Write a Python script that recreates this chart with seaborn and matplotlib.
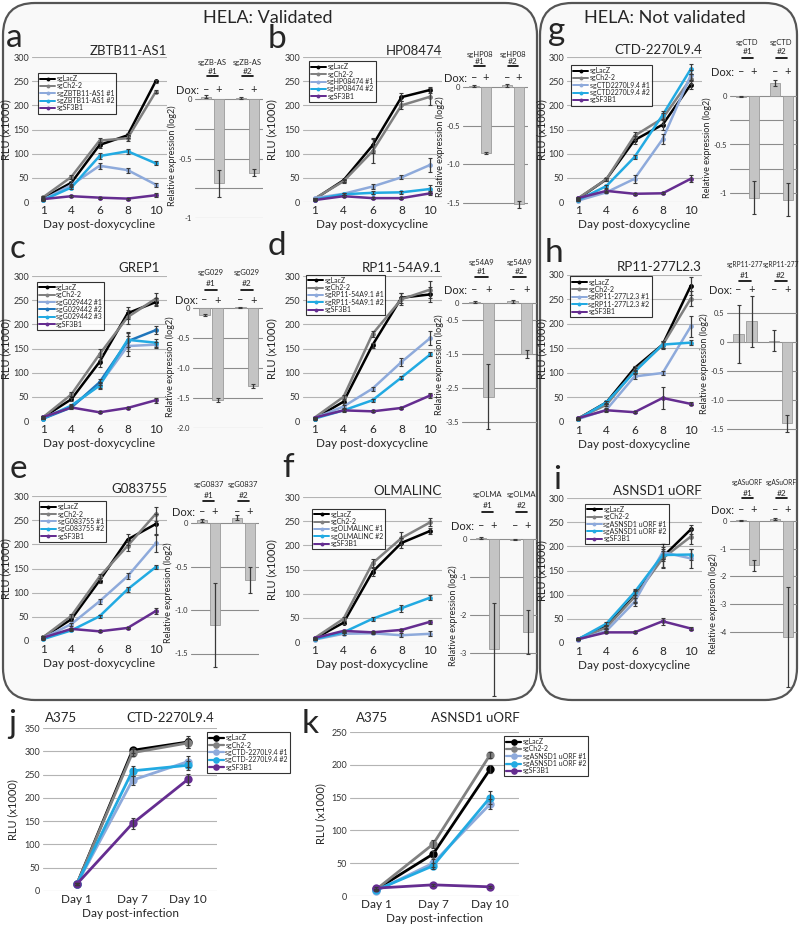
import matplotlib
matplotlib.use("Agg")
import matplotlib.pyplot as plt
import matplotlib.transforms as mtransforms
from matplotlib.lines import Line2D
from matplotlib.patches import FancyBboxPatch
import pandas as pd
import seaborn as sns

W, H = 800, 932

DAYS = ["1", "4", "6", "8", "10"]
A375_DAYS = ["Day 1", "Day 7", "Day 10"]

BLACK = "#000000"
GRAY = "#808080"
LIGHT = "#8eaadb"
CYAN = "#22aae2"
DARK = "#1f75bb"
PURPLE = "#652d90"
FIVE = [BLACK, GRAY, LIGHT, CYAN, PURPLE]
SIX = [BLACK, GRAY, LIGHT, DARK, CYAN, PURPLE]

# ---- panel a: ZBTB11-AS1
a_names = ["sgLacZ", "sgCh2-2", "sgZBTB11-AS1 #1", "sgZBTB11-AS1 #2", "sgSF3B1"]
a_rlu = [[8, 40, 118, 138, 250], [10, 52, 127, 132, 228], [5, 35, 75, 66, 36],
         [4, 30, 95, 105, 80], [6, 12, 9, 7, 14]]
a_err = [[2, 4, 6, 5, 3], [2, 4, 5, 6, 3], [1, 3, 6, 5, 4], [1, 3, 7, 5, 4], [1, 2, 2, 2, 4]]
a_bar = [0.02, -0.71, 0.01, -0.62]
a_bar_err = [0.015, 0.11, 0.008, 0.03]

# ---- panel b: HP08474
b_names = ["sgLacZ", "sgCh2-2", "sgHP08474 #1", "sgHP08474 #2", "sgSF3B1"]
b_rlu = [[6, 45, 117, 217, 232], [7, 43, 105, 200, 218], [8, 17, 32, 51, 77],
         [5, 16, 19, 20, 27], [4, 12, 8, 8, 18]]
b_err = [[2, 3, 15, 8, 6], [2, 3, 25, 8, 18], [1, 2, 5, 4, 14], [1, 2, 3, 3, 9], [1, 2, 2, 2, 4]]
b_bar = [0.01, -0.85, 0.02, -1.52]
b_bar_err = [0.01, 0.015, 0.015, 0.04]

# ---- panel g: CTD-2270L9.4
g_names = ["sgLacZ", "sgCh2-2", "sgCTD2270L9.4 #1", "sgCTD2270L9.4 #2", "sgSF3B1"]
g_rlu = [[7, 47, 128, 160, 243], [8, 47, 137, 173, 255], [3, 20, 48, 130, 262],
         [4, 33, 93, 180, 275], [8, 23, 17, 18, 48]]
g_err = [[2, 3, 8, 10, 10], [2, 3, 8, 12, 10], [1, 2, 8, 10, 12], [1, 3, 5, 8, 10], [1, 3, 2, 2, 7]]
g_bar = [-0.01, -1.05, 0.13, -1.07]
g_bar_err = [0.005, 0.17, 0.03, 0.17]

# ---- panel c: GREP1
c_names = ["sgLacZ", "sgCh2-2", "sgG029442 #1", "sgG029442 #2", "sgG029442 #3", "sgSF3B1"]
c_rlu = [[8, 45, 122, 223, 246], [8, 55, 138, 215, 253], [6, 30, 75, 155, 158],
         [5, 28, 80, 165, 188], [5, 32, 73, 168, 162], [8, 28, 18, 27, 43]]
c_err = [[2, 3, 10, 12, 8], [2, 4, 12, 15, 12], [1, 3, 6, 20, 6], [1, 3, 6, 20, 8],
         [1, 3, 6, 15, 8], [1, 2, 2, 2, 5]]
c_bar = [-0.12, -1.53, 0.01, -1.3]
c_bar_err = [0.02, 0.03, 0.01, 0.03]

# ---- panel d: RP11-54A9.1
d_names = ["sgLacZ", "sgCh2-2", "sgRP11-54A9.1 #1", "sgRP11-54A9.1 #2", "sgSF3B1"]
d_rlu = [[5, 40, 157, 255, 262], [7, 50, 180, 252, 272], [6, 30, 67, 122, 172],
         [5, 22, 43, 90, 138], [7, 22, 20, 27, 53]]
d_err = [[2, 3, 5, 10, 15], [2, 4, 6, 12, 18], [1, 3, 4, 9, 15], [1, 2, 3, 4, 4], [1, 3, 2, 3, 5]]
d_bar = [0.03, -2.75, 0.05, -1.5]
d_bar_err = [0.02, 0.95, 0.05, 0.12]

# ---- panel h: RP11-277L2.3
h_names = ["sgLacZ", "sgCh2-2", "sgRP11-277L2.3 #1", "sgRP11-277L2.3 #2", "sgSF3B1"]
h_rlu = [[7, 40, 110, 158, 278], [8, 35, 105, 157, 252], [6, 25, 93, 100, 195],
         [6, 40, 102, 158, 162], [8, 24, 20, 49, 37]]
h_err = [[2, 3, 5, 8, 18], [2, 3, 5, 8, 15], [1, 3, 6, 5, 22], [1, 3, 5, 6, 5], [1, 3, 2, 22, 3]]
h_bar = [0.13, 0.36, 0.02, -1.4]
h_bar_err = [0.5, 0.44, 0.18, 0.15]

# ---- panel e: G083755
e_names = ["sgLacZ", "sgCh2-2", "sgG083755 #1", "sgG083755 #2", "sgSF3B1"]
e_rlu = [[8, 45, 125, 210, 242], [8, 52, 133, 197, 263], [6, 35, 82, 134, 202],
         [4, 22, 51, 107, 153], [7, 25, 20, 27, 62]]
e_err = [[2, 3, 6, 12, 20], [2, 4, 6, 10, 15], [1, 3, 5, 6, 18], [1, 2, 3, 5, 4], [1, 2, 2, 2, 6]]
e_bar = [0.03, -1.17, 0.06, -0.65]
e_bar_err = [0.015, 0.48, 0.03, 0.15]

# ---- panel f: OLMALINC
f_names = ["sgLacZ", "sgCh2-2", "sgOLMALINC #1", "sgOLMALINC #2", "sgSF3B1"]
f_rlu = [[7, 40, 145, 205, 230], [8, 48, 163, 215, 248], [5, 17, 18, 14, 17],
         [6, 20, 48, 70, 92], [8, 23, 20, 25, 42]]
f_err = [[2, 3, 8, 10, 6], [2, 4, 8, 12, 8], [1, 2, 2, 4, 5], [1, 2, 4, 7, 5], [1, 2, 2, 2, 4]]
f_bar = [0.03, -2.9, -0.02, -2.45]
f_bar_err = [0.02, 1.22, 0.01, 0.58]

# ---- panel i: ASNSD1 uORF
i_names = ["sgLacZ", "sgCh2-2", "sgASNSD1 uORF #1", "sgASNSD1 uORF #2", "sgSF3B1"]
i_rlu = [[8, 35, 97, 178, 235], [8, 32, 95, 175, 220], [7, 25, 85, 188, 175],
         [8, 40, 105, 182, 183], [8, 22, 22, 45, 30]]
i_err = [[2, 3, 12, 20, 10], [2, 3, 12, 20, 15], [1, 3, 8, 18, 20], [1, 3, 6, 8, 12], [1, 2, 2, 7, 3]]
i_bar = [0.02, -1.6, 0.07, -4.2]
i_bar_err = [0.02, 0.2, 0.04, 1.8]

# ---- panel j: A375 CTD-2270L9.4
j_names = ["sgLacZ", "sgCh2-2", "sgCTD-2270L9.4 #1", "sgCTD-2270L9.4 #2", "sgSF3B1"]
j_rlu = [[15, 302, 320], [15, 297, 318], [15, 238, 278], [15, 258, 270], [15, 145, 240]]
j_err = [[2, 5, 12], [2, 8, 10], [2, 10, 12], [2, 10, 10], [2, 12, 12]]

# ---- panel k: A375 ASNSD1 uORF
k_names = ["sgLacZ", "sgCh2-2", "sgASNSD1 uORF #1", "sgASNSD1 uORF #2", "sgSF3B1"]
k_rlu = [[10, 64, 193], [10, 79, 215], [8, 50, 140], [9, 46, 150], [12, 17, 14]]
k_err = [[1, 4, 6], [1, 6, 5], [1, 6, 8], [1, 5, 10], [1, 2, 2]]


sns.set_style("white")
plt.rcParams["font.family"] = ["Lato", "DejaVu Sans"]

fig = plt.figure(figsize=(W / 100, H / 100), dpi=100)


def add_ax(x0, y0, x1, y1):
    ax = fig.add_axes([x0 / W, 1 - y1 / H, (x1 - x0) / W, (y1 - y0) / H])
    ax.patch.set_alpha(0)
    for s in ax.spines.values():
        s.set_visible(False)
    ax.tick_params(length=0, pad=2)
    return ax


def ftext(x, y, s, **kw):
    fig.text(x / W, 1 - y / H, s, **kw)


def box(x0, y0, x1, y1):
    p = FancyBboxPatch((x0 / 100, (H - y1) / 100), (x1 - x0) / 100, (y1 - y0) / 100,
                       boxstyle="round,pad=0,rounding_size=0.32", transform=fig.dpi_scale_trans,
                       fc="#f9f9f9", ec="#555555", lw=1.6, zorder=-5)
    fig.add_artist(p)


box(3, 3, 537, 700)
box(540, 3, 797, 700)
ftext(268, 18, "HELA: Validated", fontsize=13, ha="center", va="center")
ftext(665, 18, "HELA: Not validated", fontsize=13, ha="center", va="center")


def line_panel(x0, x1, ytop, ybot, names, colors, rlu, err, xlabels, xlim, ymax, ystep,
               leg_xy, xlabel, ylab_x, ms=3.5, lw=1.8, leg_fs=5):
    ax = add_ax(x0, ytop, x1, ybot)
    rows = []
    for n, vals in zip(names, rlu):
        for k, v in enumerate(vals):
            rows.append({"series": n, "x": k, "rlu": v})
    df = pd.DataFrame(rows)
    pal = dict(zip(names, colors))
    ax.set_ylim(0, ymax)
    ax.set_yticks(range(0, ymax + 1, ystep))
    ax.grid(axis="y", color="#b4b4b4", lw=0.8)
    ax.set_axisbelow(True)
    sns.lineplot(data=df, x="x", y="rlu", hue="series", hue_order=names, palette=pal,
                 marker="o", markersize=ms, markeredgewidth=0, linewidth=lw,
                 legend=False, ax=ax, clip_on=False, zorder=3)
    for n, vals, e in zip(names, rlu, err):
        ax.errorbar(range(len(vals)), vals, yerr=e, fmt="none", ecolor="#3a3a3a",
                    elinewidth=0.9, capsize=1.2, capthick=0.8, zorder=4, clip_on=False)
    ax.set_xlim(*xlim)
    ax.set_xticks(range(len(xlabels)))
    ax.set_xticklabels(xlabels, fontsize=8.5)
    ax.tick_params(axis="y", labelsize=6.5, labelcolor="#333333")
    ax.set_xlabel(xlabel, fontsize=8.5, labelpad=2)
    ax.set_ylabel("RLU (x1000)", fontsize=8)
    ax.yaxis.set_label_coords((ylab_x - x0) / (x1 - x0), 0.5)
    handles = [Line2D([], [], color=c, marker="o", ms=ms * 0.8, mew=0, lw=lw * 0.8) for c in colors]
    leg = ax.legend(handles, names, loc="upper left", bbox_to_anchor=leg_xy, fontsize=leg_fs,
                    frameon=True, fancybox=False, edgecolor="black", handlelength=2.2,
                    handletextpad=0.2, borderpad=0.3, labelspacing=0.05, borderaxespad=0)
    leg.get_frame().set_linewidth(0.8)
    leg.get_frame().set_facecolor("white")
    leg.set_zorder(6)
    return ax


def bar_panel(x0, x1, yzero, ppu, ylim, vals, errs, ticks, ticklabels, group, label_ys, gfs=5.5):
    ytop = yzero - ylim[1] * ppu
    ybot = yzero - ylim[0] * ppu
    ax = add_ax(x0, ytop, x1, ybot)
    pos = [0, 1, 2.75, 3.75]
    ax.set_yticks(ticks)
    ax.set_yticklabels(ticklabels, fontsize=5.5, color="#333333")
    ax.grid(axis="y", color="#8c8c8c", lw=0.8)
    ax.set_axisbelow(True)
    sns.barplot(x=pos, y=vals, native_scale=True, orient="x", color="#c4c4c4",
                edgecolor="#9a9a9a", linewidth=0.6, width=0.8, errorbar=None, ax=ax, zorder=2)
    ax.errorbar(pos, vals, yerr=errs, fmt="none", ecolor="#3a3a3a", elinewidth=0.9,
                capsize=1.5, capthick=0.8, zorder=4, clip_on=False)
    ax.set_xlim(-0.9, 4.5)
    ax.set_ylim(*ylim)
    ax.set_xticks([])
    ax.set_xlabel("")
    ax.set_ylabel("Relative expression (log2)", fontsize=6.5, labelpad=1)
    tr = mtransforms.blended_transform_factory(ax.transData, fig.transFigure)
    yn, yh, yl, yd = [1 - v / H for v in label_ys]
    for cx, num in [(0.5, "#1"), (3.25, "#2")]:
        ax.text(cx, yn, group, transform=tr, fontsize=gfs, ha="center", va="center")
        ax.text(cx, yh, num, transform=tr, fontsize=6, ha="center", va="center")
        ax.add_line(Line2D([cx - 0.45, cx + 0.45], [yl, yl], transform=tr, color="black",
                           lw=1.2, clip_on=False))
    ax.text(-0.55, yd, "Dox:", transform=tr, fontsize=8, ha="right", va="center")
    for p, s in zip(pos, ["\u2013", "+", "\u2013", "+"]):
        ax.text(p, yd, s, transform=tr, fontsize=8, ha="center", va="center")
    return ax


def letter(x, y, s):
    ftext(x, y, s, fontsize=24, ha="left", va="baseline")


def title(x, y, s, ha="right"):
    ftext(x, y, s, fontsize=9.5, ha=ha, va="baseline")


DOXY = "Day post-doxycycline"
XL = (-0.4, 4.4)

# row 1
line_panel(32, 167, 57, 202, a_names, FIVE, a_rlu, a_err, DAYS, XL, 300, 50, (0.045, 0.89), DOXY, 11)
bar_panel(195, 263, 99, 119, (-1.0, 0.05), a_bar, a_bar_err, [0, -0.25, -0.5, -0.75, -1],
          ["0", "", "-0.5", "", "-1"], "sgZB-AS", (62, 71, 76, 90))
letter(6, 47, "a")
title(167, 55, "ZBTB11-AS1")

line_panel(303, 442, 57, 202, b_names, FIVE, b_rlu, b_err, DAYS, XL, 300, 50, (0.04, 0.97), DOXY, 277)
bar_panel(463, 528, 87, 77.3, (-1.6, 0.05), b_bar, b_bar_err, [0, -0.5, -1.0, -1.5],
          ["0", "-0.5", "-1.0", "-1.5"], "sgHP08", (55, 62, 66, 78))
letter(268, 48, "b")
title(442, 55, "HP08474")

line_panel(567, 702, 57, 202, g_names, FIVE, g_rlu, g_err, DAYS, XL, 300, 50, (0.03, 0.945), DOXY, 547)
bar_panel(730, 797, 96, 97, (-1.25, 0.18), g_bar, g_bar_err, [0, -0.25, -0.5, -0.75, -1],
          ["0", "", "-0.5", "", "-1"], "sgCTD", (42, 52, 58, 72))
letter(548, 40, "g")
title(702, 54, "CTD-2270L9.4")

# row 2
line_panel(32, 167, 276, 421, c_names, SIX, c_rlu, c_err, DAYS, XL, 300, 50, (0.04, 0.96), DOXY, 11)
bar_panel(193, 263, 308, 60, (-2.0, 0.05), c_bar, c_bar_err, [0, -0.5, -1.0, -1.5, -2.0],
          ["0", "-0.5", "-1.0", "-1.5", "-2.0"], "sgG029", (273, 284, 290, 300))
letter(10, 258, "c")
title(160, 272, "GREP1")

line_panel(303, 442, 276, 421, d_names, FIVE, d_rlu, d_err, DAYS, XL, 300, 50, (0.02, 1.01), DOXY, 277)
bar_panel(462, 537, 303, 34, (-3.75, 0.1), d_bar, d_bar_err, [0, -0.5, -1.5, -2.5, -3.5],
          ["0", "-0.5", "-1.5", "-2.5", "-3.5"], "sg54A9", (262, 271, 277, 290))
letter(268, 255, "d")
title(442, 272, "RP11-54A9.1")

line_panel(567, 702, 275, 422, h_names, FIVE, h_rlu, h_err, DAYS, XL, 300, 50, (0.02, 0.99), DOXY, 547)
bar_panel(727, 797, 342, 58, (-1.6, 0.85), h_bar, h_bar_err, [0.5, 0, -0.5, -1.0, -1.5],
          ["0.5", "0", "-0.5", "-1.0", "-1.5"], "sgRP11-277", (265, 276, 281, 290), gfs=4.8)
letter(545, 262, "h")
title(702, 271, "RP11-277L2.3")

# row 3
line_panel(32, 167, 496, 641, e_names, FIVE, e_rlu, e_err, DAYS, XL, 300, 50, (0.05, 0.965), DOXY, 11)
bar_panel(191, 259, 523, 87, (-1.7, 0.1), e_bar, e_bar_err, [0, -0.5, -1.0, -1.5],
          ["0", "-0.5", "-1.0", "-1.5"], "sgG0837", (485, 495, 501, 512))
letter(10, 478, "e")
title(167, 493, "G083755")

line_panel(303, 442, 497, 642, f_names, FIVE, f_rlu, f_err, DAYS, XL, 300, 50, (0.065, 0.92), DOXY, 277)
bar_panel(470, 537, 539, 38, (-4.15, 0.1), f_bar, f_bar_err, [0, -1, -2, -3],
          ["0", "-1", "-2", "-3"], "sgOLMA", (495, 506, 512, 526))
letter(282, 477, "f")
title(442, 495, "OLMALINC")

line_panel(567, 702, 498, 643, i_names, FIVE, i_rlu, i_err, DAYS, XL, 300, 50, (0.13, 0.96), DOXY, 547)
bar_panel(730, 797, 521, 27.7, (-6.1, 0.15), i_bar, i_bar_err, [0, -1, -2, -3, -4],
          ["0", "-1", "-2", "-3", "-4"], "sgASuORF", (482, 493, 498, 510), gfs=4.8)
letter(553, 489, "i")
title(702, 495, "ASNSD1 uORF")

# A375 panels
line_panel(43, 217, 728, 891, j_names, FIVE, j_rlu, j_err, A375_DAYS, (-0.61, 2.52), 350, 50,
           (0.94, 0.975), "Day post-infection", 18, ms=6, lw=2, leg_fs=5)
letter(8, 733, "j")
title(45, 722, "A375", ha="left")
title(214, 722, "CTD-2270L9.4")

line_panel(350, 519, 732, 896, k_names, FIVE, k_rlu, k_err, A375_DAYS, (-0.46, 2.51), 250, 50,
           (0.91, 0.976), "Day post-infection", 326, ms=6, lw=2, leg_fs=5)
letter(302, 733, "k")
title(356, 722, "A375", ha="left")
title(520, 722, "ASNSD1 uORF")

fig.savefig("out.png", dpi=100)
